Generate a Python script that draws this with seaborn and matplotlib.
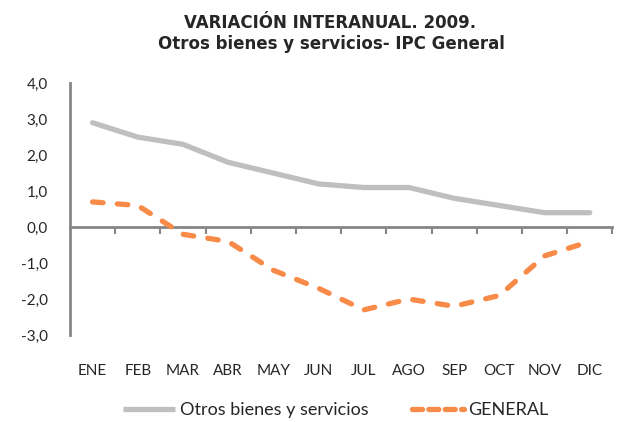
import matplotlib
matplotlib.use("Agg")
import matplotlib.pyplot as plt
import seaborn as sns
import pandas as pd
from matplotlib.lines import Line2D

months = ["ENE", "FEB", "MAR", "ABR", "MAY", "JUN", "JUL", "AGO", "SEP", "OCT", "NOV", "DIC"]
otros = [2.9, 2.5, 2.3, 1.8, 1.5, 1.2, 1.1, 1.1, 0.8, 0.6, 0.4, 0.4]
general = [0.7, 0.6, -0.2, -0.4, -1.2, -1.7, -2.3, -2.0, -2.2, -1.9, -0.8, -0.4]
yticks = [4, 3, 2, 1, 0, -1, -2, -3]
series_names = ["Otros bienes y servicios", "GENERAL"]

GRAY = "#BFBFBF"
ORANGE = "#F98B48"

sns.set_theme(style="white")
plt.rcParams["font.family"] = ["Lato", "DejaVu Sans"]

df = pd.DataFrame({
    "x": list(range(len(months))) * 2,
    "valor": otros + general,
    "serie": [series_names[0]] * len(months) + [series_names[1]] * len(months),
})

fig = plt.figure(figsize=(6.22, 4.22), dpi=100)
ax = fig.add_axes([0.1125, 0.206, 0.872, 0.597])

sns.lineplot(data=df, x="x", y="valor", hue="serie", style="serie",
             palette={series_names[0]: GRAY, series_names[1]: ORANGE},
             dashes={series_names[0]: "", series_names[1]: (2.0, 2.7)},
             linewidth=3.8, ax=ax, legend=False)
for l in ax.lines:
    l.set_solid_capstyle("round")
    l.set_dash_capstyle("round")
    l.set_solid_joinstyle("round")

ax.set_xlim(-0.5, len(months) - 0.5)
ax.set_ylim(-3, 4)
ax.set_yticks(yticks)
ax.set_yticklabels([f"{v:.1f}".replace(".", ",") for v in yticks], fontsize=11)
ax.set_xticks(range(len(months)))
ax.set_xticklabels(months, fontsize=11)
ax.tick_params(axis="x", length=0, pad=21)
ax.tick_params(axis="y", length=0, pad=16)
ax.set_xlabel("")
ax.set_ylabel("")
for s in ["top", "right", "bottom"]:
    ax.spines[s].set_visible(False)
ax.spines["left"].set_color("#868686")
ax.spines["left"].set_linewidth(2)

# horizontal axis at zero with category-boundary ticks
sec = ax.secondary_xaxis(3 / 7)
sec.set_xticks([i - 0.5 for i in range(1, len(months) + 1)])
sec.set_xticklabels([])
sec.tick_params(axis="x", length=5, width=1.5, color="#868686", direction="out")
sec.spines["bottom"].set_color("#868686")
sec.spines["bottom"].set_linewidth(2)
for s in ["top", "left", "right"]:
    sec.spines[s].set_visible(False)

fig.text(0.530, 0.934, "VARIACIÓN INTERANUAL. 2009.", ha="center", va="baseline",
         fontsize=12, fontweight="bold", family=["DejaVu Sans"])
fig.text(0.533, 0.885, "Otros bienes y servicios- IPC General", ha="center", va="baseline",
         fontsize=12, fontweight="bold", family=["DejaVu Sans"])

handles = [Line2D([], [], color=GRAY, lw=3.8, solid_capstyle="butt"),
           Line2D([], [], color=ORANGE, lw=3.8, ls=(0, (1.9, 1.2)), dash_capstyle="round")]
fig.legend(handles, series_names, loc="center",
           bbox_to_anchor=(0.54, 0.028), ncol=2, frameon=False, fontsize=13,
           handlelength=2.9, handletextpad=0.25, columnspacing=2.4,
           borderaxespad=0, borderpad=0)

fig.savefig("out.png", dpi=100)
